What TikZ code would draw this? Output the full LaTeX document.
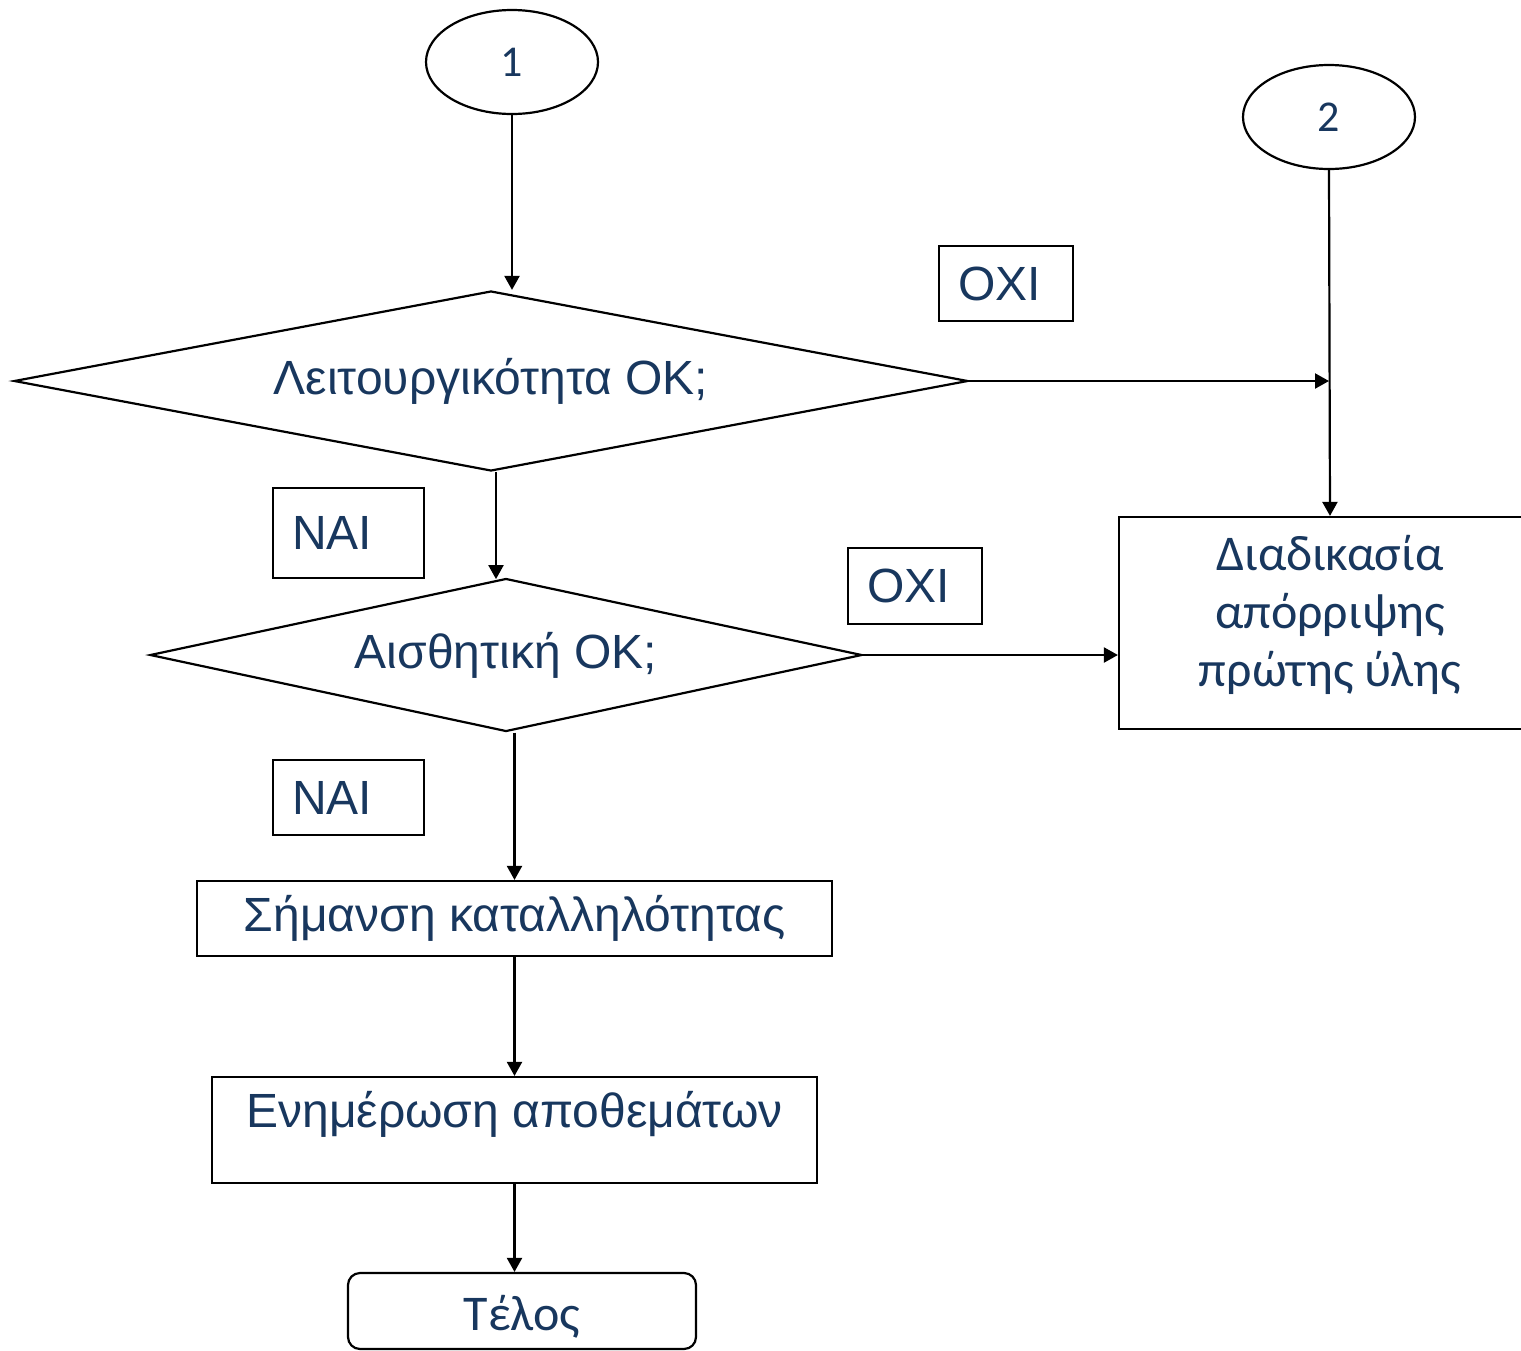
\documentclass[tikz,border=0pt]{standalone}
\usepackage{fontspec}
\setmainfont{Liberation Sans}
\newfontfamily\calib{Carlito}
\usepackage{xcolor}
\usepackage{tikz}
\usetikzlibrary{arrows.meta,shapes.geometric}
\definecolor{inkblue}{RGB}{24,55,94}

\begin{document}
\begin{tikzpicture}[x=0.5pt,y=-0.5pt,line width=1.1pt,
box/.style={draw,align=center,text=inkblue,font=\fontsize{24}{29}\selectfont},
dec/.style={draw,diamond,inner sep=0pt,text=inkblue,font=\fontsize{24}{29}\selectfont},
conn/.style={draw,ellipse,minimum width=86pt,minimum height=52pt,text=inkblue,font=\calib\fontsize{22}{26}\selectfont},
tag/.style={draw,align=left,inner xsep=9.5pt,text=inkblue,font=\fontsize{24}{29}\selectfont},
arr/.style={-{Triangle[length=7pt,width=7.5pt]}}]
\useasboundingbox (0,0) rectangle (1521,1350);
\node[conn] (one) at (512,62) {1};
\node[conn] (two) at (1329,117) {2};
\node[dec,aspect=5.3,minimum width=477pt,minimum height=90pt] (func) at (491,381) {Λειτουργικότητα ΟΚ;};
\node[dec,aspect=4.65,minimum width=356pt,minimum height=76.5pt] (look) at (506,655) {Αισθητική ΟΚ;};
\node[box,font=\calib\fontsize{25}{29}\selectfont,minimum width=211pt,minimum height=106pt,text depth=12pt] (reject) at (1330,623) {Διαδικασία\\απόρριψης\\πρώτης ύλης};
\node[box,minimum width=317.5pt,minimum height=37.5pt] (mark) at (514.5,918.5) {Σήμανση καταλληλότητας};
\node[box,minimum width=302.5pt,minimum height=53pt,text height=17pt,text depth=20pt] (stock) at (514.5,1130) {Ενημέρωση αποθεμάτων};
\node[box,rounded corners=6pt,font=\calib\fontsize{25}{29}\selectfont,minimum width=174pt,minimum height=38pt,text height=25pt,text depth=6pt,inner ysep=2pt] (fin) at (522,1311) {Τέλος};
\node[tag,text width=48pt,minimum height=37.5pt] (no1) at (1006,283.5) {ΟΧΙ};
\node[tag,text width=48pt,minimum height=38pt] (no2) at (915,586) {ΟΧΙ};
\node[tag,text width=56.5pt,minimum height=45pt] (yes1) at (348.5,533) {ΝΑΙ};
\node[tag,text width=56.5pt,minimum height=37.5pt] (yes2) at (348.5,797.5) {ΝΑΙ};
\draw[arr] (one.south) -- (one.south |- func.north);
\draw[arr] (func.east) -- (two.south |- func.east);
\draw[arr] (two.south) -- (reject.north);
\draw[arr] (func.south) ++(5,0) -- ++(0,107);
\draw[arr] (look.east) -- (look.east -| reject.west);
\draw[arr] (mark.north |- look.south) -- (mark.north);
\draw[arr] (mark.south) -- (stock.north);
\draw[arr] (stock.south) -- (stock.south |- fin.north);
\end{tikzpicture}
\end{document}
